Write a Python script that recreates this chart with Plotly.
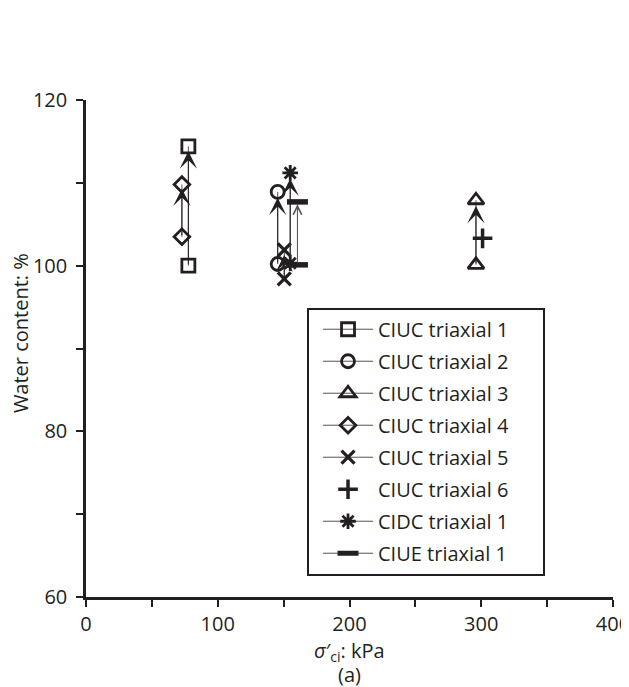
import plotly.graph_objects as go

# ---- data ----
series_names = ["CIUC triaxial 1", "CIUC triaxial 2", "CIUC triaxial 3", "CIUC triaxial 4",
                "CIUC triaxial 5", "CIUC triaxial 6", "CIDC triaxial 1", "CIUE triaxial 1"]
stress_kpa = [77.7, 145.5, 296.0, 72.8, 150.5, 301.0, 155.0, 160.5]
w_start = [100.0, 100.2, 100.1, 103.5, 98.4, 103.3, 100.3, 100.1]
w_end = [114.4, 108.9, 107.9, 109.8, 101.9, None, 111.2, 107.7]
w_arrow_tip = [113.8, 108.2, 107.2, 109.3, 101.3, None, 110.5, 107.4]
symbols = ["square-open", "circle-open", "triangle-up-open", "diamond-open",
           "x-thin-open", "cross-thin-open", "asterisk-open", "line-ew-open"]
x_ticks = [0, 100, 200, 300, 400]
x_minor = [50, 150, 250, 350]
y_ticks = [60, 80, 100, 120]
y_minor = [70, 90, 110]
y_title = "Water content: %"
x_title = "<i>σ</i>′<sub>ci</sub>: kPa"
panel_label = "(a)"

INK = "#231f20"
FONT = "Open Sans"
FS = 20

# the page body has an 8 px margin, so the figure is offset by 8 px
BODY = 8
PLOT_L, PLOT_T, PLOT_W, PLOT_H = 86, 100, 527, 497

marker_style = {
    "square-open": (13, 2.8),
    "circle-open": (13, 2.8),
    "triangle-up-open": (14, 2.8),
    "diamond-open": (12, 2.8),
    "x-thin-open": (13, 3.2),
    "cross-thin-open": (14, 3.5),
    "asterisk-open": (13, 2.8),
    "line-ew-open": (15, 5.5),
}

fig = go.Figure()
annotations = []
for i, name in enumerate(series_names):
    sym = symbols[i]
    size, lw = marker_style[sym]
    if w_end[i] is None:
        xs, ys, mode = [stress_kpa[i]], [w_start[i]], "markers"
    else:
        xs, ys, mode = [stress_kpa[i], stress_kpa[i]], [w_start[i], w_end[i]], "lines+markers"
    fig.add_trace(go.Scatter(
        x=xs, y=ys, mode=mode, name=name, legendgroup=name,
        line=dict(color="#555555", width=1),
        marker=dict(symbol=sym, size=size, color=INK, line=dict(color=INK, width=lw)),
        hoverinfo="skip",
    ))
    if w_arrow_tip[i] is not None:
        open_head = sym == "line-ew-open"
        annotations.append(dict(
            x=stress_kpa[i], y=w_arrow_tip[i], ax=stress_kpa[i], ay=w_start[i],
            xref="x", yref="y", axref="x", ayref="y", text="", showarrow=True,
            arrowhead=5 if open_head else 3, arrowsize=2.8 if open_head else 2.9,
            arrowwidth=0.6 if open_head else 1, arrowcolor="#555555" if open_head else INK,
        ))

# axis titles and panel label
annotations.append(dict(
    text=x_title, x=0.5, y=0, xref="paper", yref="paper", yshift=-54, showarrow=False,
    font=dict(family=FONT, size=FS, color=INK), xanchor="center", yanchor="middle",
))
annotations.append(dict(
    text=panel_label, x=0.5, y=0, xref="paper", yref="paper", yshift=-77, showarrow=False,
    font=dict(family=FONT, size=FS, color=INK), xanchor="center", yanchor="middle",
))
annotations.append(dict(
    text=y_title, x=0, y=0.531, xref="paper", yref="paper", xshift=-66, showarrow=False,
    textangle=-90, font=dict(family=FONT, size=FS, color=INK), xanchor="center", yanchor="middle",
))

axis_common = dict(showgrid=False, zeroline=False, color=INK, automargin=False,
                   ticklabeloverflow="allow",
                   tickfont=dict(family=FONT, size=FS, color=INK))

fig_w = 629 - BODY
fig_h = 687 - BODY
fig.update_layout(
    width=fig_w, height=fig_h,
    margin=dict(l=PLOT_L - BODY, r=fig_w - (PLOT_L - BODY) - PLOT_W,
                t=PLOT_T - BODY, b=fig_h - (PLOT_T - BODY) - PLOT_H),
    paper_bgcolor="white", plot_bgcolor="white",
    font=dict(family=FONT, size=FS, color=INK),
    showlegend=True,
    legend=dict(x=0.4213, y=0.578, xanchor="left", yanchor="top",
                bgcolor="rgba(0,0,0,0)", borderwidth=0,
                font=dict(family=FONT, size=FS, color=INK),
                tracegroupgap=3, itemwidth=50, indentation=10),
    shapes=[dict(type="rect", xref="paper", yref="paper",
                 x0=(308 - 86) / 527, x1=(544 - 86) / 527,
                 y0=(597 - 575) / 497, y1=(597 - 309) / 497,
                 line=dict(color=INK, width=2), fillcolor="white", layer="above")],
    xaxis=dict(range=[0, 400], tickvals=x_ticks, ticks="outside", ticklen=7, tickwidth=2,
               tickcolor=INK, showline=True, linewidth=2.5, linecolor=INK,
               ticklabelstandoff=0,
               minor=dict(tickvals=x_minor, ticks="outside", ticklen=7,
                          tickwidth=2, tickcolor=INK),
               **axis_common),
    yaxis=dict(range=[60, 120], tickvals=y_ticks, ticks="outside", ticklen=7, tickwidth=2,
               tickcolor=INK, showline=True, linewidth=2.5, linecolor=INK,
               ticklabelstandoff=5,
               minor=dict(tickvals=y_minor, ticks="outside", ticklen=7,
                          tickwidth=2, tickcolor=INK),
               **axis_common),
    xaxis2=dict(range=[0, 400], tickvals=x_ticks, ticks="inside", ticklen=7, tickwidth=2,
                tickcolor=INK, overlaying="x", anchor="y2", side="bottom", automargin=False,
                showticklabels=False, showline=False, showgrid=False, zeroline=False),
    yaxis2=dict(range=[60, 120], tickvals=y_ticks, ticks="inside", ticklen=7, tickwidth=2,
                tickcolor=INK, overlaying="y", anchor="x2", side="left", automargin=False,
                showticklabels=False, showline=False, showgrid=False, zeroline=False),
    annotations=annotations,
)

fig.write_html("out.html")
